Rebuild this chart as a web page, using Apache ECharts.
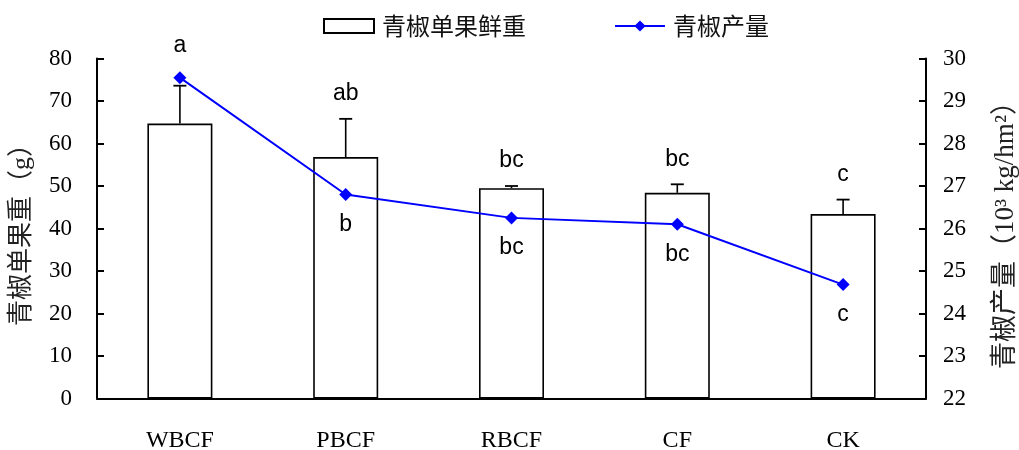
<!DOCTYPE html>
<html>
<head>
<meta charset="utf-8">
<script src="https://cdn.jsdelivr.net/npm/echarts@6/dist/echarts.min.js"></script>
<style>
  html, body { margin: 0; padding: 0; background: #fff; }
  #chart { width: 1019px; height: 450px; }
</style>
</head>
<body>
<div id="chart"></div>
<script>
// Treatments
const categories = ['WBCF', 'PBCF', 'RBCF', 'CF', 'CK'];
// Single fruit fresh weight (g) and its standard deviation
const fruitWeight = [64.7, 56.8, 49.5, 48.4, 43.4];
const fruitWeightErr = [8.9, 9.0, 0.5, 2.0, 3.4];
// Yield (10^3 kg/hm^2)
const yieldValues = [29.55, 26.8, 26.25, 26.1, 24.68];
// Significance letters
const weightLetters = ['a', 'ab', 'bc', 'bc', 'c'];
const yieldLetters = ['', 'b', 'bc', 'bc', 'c'];
// Axis ranges
const leftMin = 0, leftMax = 80, leftStep = 10;
const rightMin = 22, rightMax = 30, rightStep = 1;

const serif = '"Liberation Serif", "Times New Roman", serif';
const cjk = '"Noto Sans CJK SC", "Liberation Serif", sans-serif';
const mixed = '"Liberation Serif", "Noto Sans CJK SC", serif';
const sans = '"Liberation Sans", Arial, sans-serif';

const chart = echarts.init(document.getElementById('chart'));

// yield value expressed in left-axis units, to keep letters clear of the markers
function yieldOnLeft(v) {
  return (v - rightMin) / (rightMax - rightMin) * (leftMax - leftMin) + leftMin;
}

const option = {
  animation: false,
  backgroundColor: '#fff',
  grid: { left: 97, right: 93, top: 58.5, bottom: 51.5, outerBoundsMode: 'none', containLabel: false },
  legend: {
    left: 323, top: 14, padding: 0,
    itemWidth: 50, itemHeight: 14, itemGap: 88,
    textStyle: { fontFamily: cjk, fontSize: 24, color: '#111', padding: [0, 0, 0, 3] },
    data: [{ name: '青椒单果鲜重', icon: 'rect' }, { name: '青椒产量' }]
  },
  xAxis: {
    type: 'category',
    data: categories,
    boundaryGap: true,
    axisLine: { lineStyle: { color: '#000', width: 2 } },
    axisTick: { inside: true, length: 7, lineStyle: { color: '#000', width: 2 } },
    axisLabel: { fontFamily: serif, fontSize: 24, color: '#000', margin: 30 }
  },
  yAxis: [
    {
      type: 'value', min: leftMin, max: leftMax, interval: leftStep,
      name: '青椒单果重（g）', nameLocation: 'middle', nameRotate: 90, nameGap: 62,
      nameTextStyle: { fontFamily: mixed, fontSize: 26, color: '#222' },
      axisLine: { show: true, lineStyle: { color: '#000', width: 2 } },
      axisTick: { show: true, inside: true, length: 7, lineStyle: { color: '#000', width: 2 } },
      axisLabel: { fontFamily: serif, fontSize: 23, color: '#000', margin: 25 },
      splitLine: { show: false }
    },
    {
      type: 'value', min: rightMin, max: rightMax, interval: rightStep, position: 'right',
      name: '青椒产量（10³ kg/hm²）', nameLocation: 'middle', nameRotate: 90, nameGap: 66,
      nameTextStyle: { fontFamily: mixed, fontSize: 27, color: '#222' },
      axisLine: { show: true, lineStyle: { color: '#000', width: 2 } },
      axisTick: { show: true, inside: true, length: 7, lineStyle: { color: '#000', width: 2 } },
      axisLabel: { fontFamily: serif, fontSize: 23, color: '#000', margin: 17 },
      splitLine: { show: false }
    }
  ],
  series: [
    {
      name: '青椒单果鲜重',
      type: 'bar',
      yAxisIndex: 0,
      barWidth: 65,
      data: fruitWeight,
      itemStyle: { color: '#fff', borderColor: '#000', borderWidth: 1.6 },
      z: 2
    },
    {
      // error bars and letters above each bar
      type: 'custom',
      yAxisIndex: 0,
      data: categories.map((c, i) => [i, fruitWeight[i], fruitWeightErr[i], yieldValues[i]]),
      renderItem: function (params, api) {
        const i = api.value(0);
        const top = api.coord([i, api.value(1)]);
        const cap = api.coord([i, api.value(1) + api.value(2)]);
        const mark = api.coord([i, yieldOnLeft(api.value(3))]);
        const half = 6.5;
        const highest = Math.min(cap[1], mark[1] - 7);
        return {
          type: 'group',
          children: [
            { type: 'line', shape: { x1: top[0], y1: top[1], x2: cap[0], y2: cap[1] },
              style: { stroke: '#000', lineWidth: 1.6 } },
            { type: 'line', shape: { x1: cap[0] - half, y1: cap[1], x2: cap[0] + half, y2: cap[1] },
              style: { stroke: '#000', lineWidth: 1.8 } },
            { type: 'text', x: cap[0], y: highest - 25,
              style: { text: weightLetters[params.dataIndex], fontFamily: sans, fontSize: 23,
                       fill: '#000', align: 'center', verticalAlign: 'middle' } }
          ]
        };
      },
      z: 3
    },
    {
      name: '青椒产量',
      type: 'line',
      yAxisIndex: 1,
      data: yieldValues.map((v, i) => ({ value: v, label: { formatter: yieldLetters[i] } })),
      symbol: 'diamond',
      symbolSize: 13,
      lineStyle: { color: '#0000ff', width: 2 },
      itemStyle: { color: '#0000ff' },
      label: { show: true, position: 'bottom', distance: 12, fontFamily: sans, fontSize: 23, color: '#000' },
      z: 5
    }
  ]
};

chart.setOption(option);
</script>
</body>
</html>
